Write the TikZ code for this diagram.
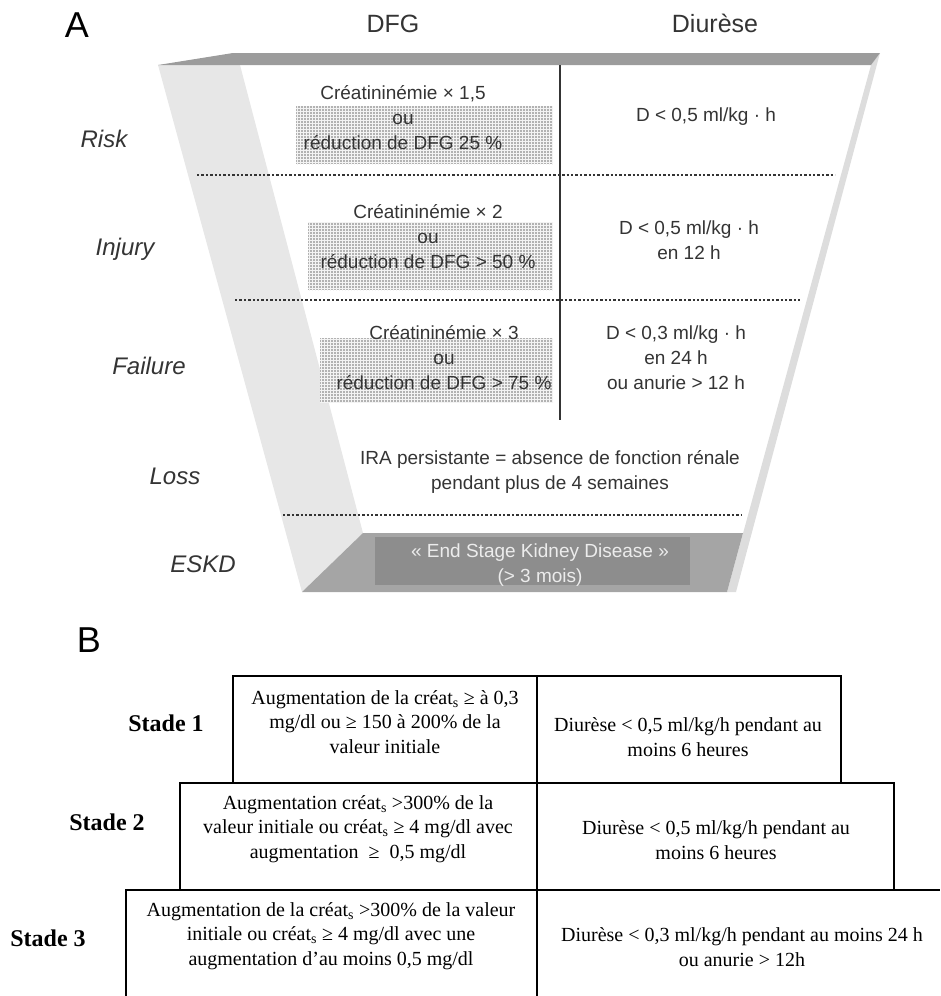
\documentclass[tikz,border=0pt]{standalone}
\usepackage{fontspec}
\setmainfont{Liberation Serif}
\newfontfamily\arialfont{Liberation Sans}
\usetikzlibrary{patterns}

\definecolor{txtgris}{RGB}{52,52,52}
\definecolor{barre}{RGB}{156,156,156}
\definecolor{bandeg}{RGB}{231,231,231}
\definecolor{banded}{RGB}{221,221,221}
\definecolor{fond}{RGB}{165,165,165}
\definecolor{fondin}{RGB}{141,141,141}
\definecolor{clair}{RGB}{236,236,236}
\definecolor{trame}{RGB}{178,178,178}

\tikzset{
  lettre/.style={font=\arialfont\fontsize{36}{40}\selectfont, anchor=base, inner sep=0pt},
  entete/.style={font=\arialfont\fontsize{25}{28}\selectfont, text=txtgris, anchor=base, inner sep=0pt},
  niveau/.style={font=\arialfont\itshape\fontsize{24}{28}\selectfont, text=txtgris, anchor=base, inner sep=0pt},
  lbl/.style={font=\arialfont\fontsize{19}{25}\selectfont, text=txtgris, align=center, inner sep=0pt},
  pointille/.style={line width=2.6pt, dash pattern=on 2.4pt off 2pt, draw=txtgris},
  tramee/.style={preaction={fill=trame}, pattern=grid, pattern color=white!85!trame},
  cellule/.style={font=\fontsize{20}{24.5}\selectfont, align=center, inner sep=0pt},
  stade/.style={font=\bfseries\fontsize{24}{28}\selectfont, inner sep=0pt},
  trait/.style={line width=1.4pt, draw=black},
}

\begin{document}
\begin{tikzpicture}[x=1pt,y=-1pt]
\useasboundingbox (0,0) rectangle (940,996);

% ===== A : entonnoir =====
\coordinate (P1) at (158,65);
\coordinate (P2) at (233,53);
\coordinate (P3) at (880,53);
\coordinate (P4) at (871,65);
\coordinate (P5) at (240,65);
\coordinate (P6) at (363,533);
\coordinate (P7) at (302,592);
\coordinate (P8) at (743,533);
\coordinate (P9) at (727,592);
\coordinate (P10) at (736,592);

% bandes grises
\fill[bandeg] (P1) -- (P5) -- (P6) -- (P7) -- cycle;
\fill[banded] (P4) -- (P3) -- (P10) -- (P9) -- cycle;
\fill[barre] (P1) -- (P2) -- (P3) -- (P4) -- cycle;
\fill[fond] (P7) -- (P6) -- (P8) -- (P9) -- cycle;
\fill[fondin] (375,537) rectangle (690,585);

% zones tramees
\path[tramee] (296,106) rectangle (553,164);
\path[tramee] (308,222) rectangle (553,290);
\path[tramee] (320,338) rectangle (553,402);

% separation verticale
\coordinate (S1) at (560,65);
\coordinate (S2) at (560,420);
\draw[line width=1.5pt, draw=txtgris] (S1) -- (S2);

% pointilles
\draw[pointille] (197,175) -- (835,175);
\draw[pointille] (235,300) -- (800,300);
\draw[pointille] (283,515) -- (742,515);

% titres
\node[lettre] (lA) at (77,37) {A};
\node[entete] (dfg) at (393,32) {DFG};
\node[entete] (diur) at (715,32) {Diurèse};

% niveaux
\node[niveau] (risk) at (104,147) {Risk};
\node[niveau] (injury) at (125,255) {Injury};
\node[niveau] (failure) at (149,374) {Failure};
\node[niveau] (loss) at (175,484) {Loss};
\node[niveau] (eskd) at (203,572) {ESKD};

% colonne DFG
\node[lbl] (dfgR) at (403,118) {Créatininémie × 1,5\\ou\\réduction de DFG 25 \%};
\node[lbl] (dfgI) at (428,237) {Créatininémie × 2\\ou\\réduction de DFG > 50 \%};
\node[lbl] (dfgF) at (444,358) {Créatininémie × 3\\ou\\réduction de DFG > 75 \%};

% colonne diurese
\node[lbl] (diuR) at (706,117) {D < 0,5 ml/kg · h};
\node[lbl] (diuI) at (689,240) {D < 0,5 ml/kg · h\\en 12 h};
\node[lbl] (diuF) at (676,358) {D < 0,3 ml/kg · h\\en 24 h\\ou anurie > 12 h};

% Loss et ESKD
\node[lbl] (lossT) at (550,472) {IRA persistante = absence de fonction rénale\\pendant plus de 4 semaines};
\node[lbl, text=clair] (eskdT) at (540,565) {« End Stage Kidney Disease »\\(> 3 mois)};

% ===== B : tableau =====
\node[lettre] (lB) at (89,652) {B};

% cases
\draw[trait] (233,676) rectangle (537,783);
\draw[trait] (537,676) rectangle (841,783);
\draw[trait] (180,783) rectangle (537,890);
\draw[trait] (537,783) rectangle (894,890);
\draw[trait] (126,996) -- (126,890) -- (940,890);
\draw[trait] (537,890) -- (537,996);

% stades
\node[stade] (st1) at (166,723) {Stade 1};
\node[stade] (st2) at (107,822) {Stade 2};
\node[stade] (st3) at (48,938) {Stade 3};

% textes des cases
\node[cellule] (c1g) at (385,722) {Augmentation de la créat\textsubscript{s} ≥ à 0,3\\mg/dl ou ≥ 150 à 200\% de la\\valeur initiale};
\node[cellule] (c1d) at (688,737) {Diurèse < 0,5 ml/kg/h pendant au\\moins 6 heures};
\node[cellule] (c2g) at (358,829) {Augmentation créat\textsubscript{s} >300\% de la\\valeur initiale ou créat\textsubscript{s} ≥ 4 mg/dl avec\\augmentation \ ≥ \ 0,5 mg/dl};
\node[cellule] (c2d) at (716,840) {Diurèse < 0,5 ml/kg/h pendant au\\moins 6 heures};
\node[cellule] (c3g) at (331,936) {Augmentation de la créat\textsubscript{s} >300\% de la valeur\\initiale ou créat\textsubscript{s} ≥ 4 mg/dl avec une\\augmentation d’au moins 0,5 mg/dl};
\node[cellule] (c3d) at (742,947) {Diurèse < 0,3 ml/kg/h pendant au moins 24 h\\ou anurie > 12h};
\end{tikzpicture}
\end{document}
